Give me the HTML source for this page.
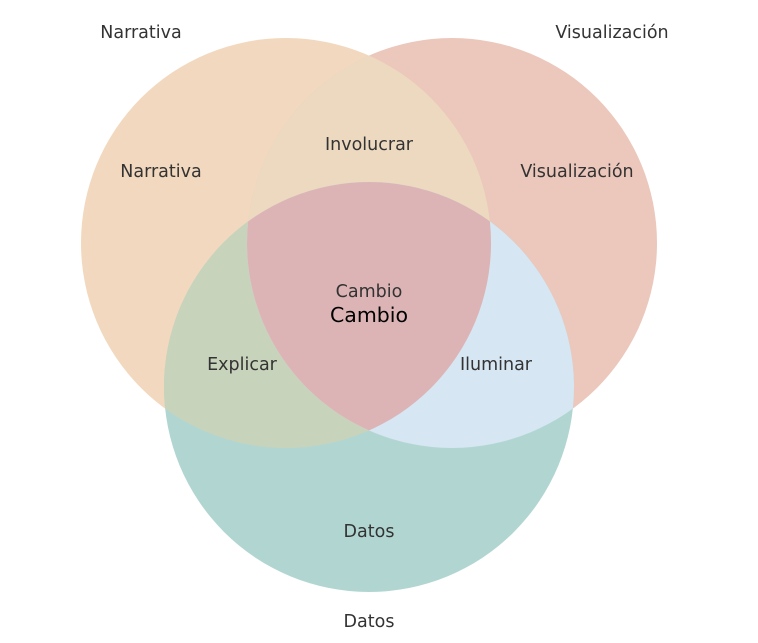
<!DOCTYPE html>
<html><head><meta charset="utf-8"><style>
html,body{margin:0;padding:0;background:#fff;}
svg{display:block;}
text{font-family:"DejaVu Sans","Liberation Sans",sans-serif;fill:#333;}
</style></head><body>
<svg width="758" height="643" viewBox="0 0 758 643" xmlns="http://www.w3.org/2000/svg">
<defs>
<clipPath id="cA"><circle cx="286" cy="243" r="205"/></clipPath>
<clipPath id="cB"><circle cx="452" cy="243" r="205"/></clipPath>
<clipPath id="cC"><circle cx="369" cy="387" r="205"/></clipPath>
</defs>
<circle cx="286" cy="243" r="205" fill="#f2d8be"/>
<circle cx="452" cy="243" r="205" fill="#ecc7bb"/>
<circle cx="369" cy="387" r="205" fill="#b1d6d2"/>
<g clip-path="url(#cA)"><circle cx="452" cy="243" r="205" fill="#ecd9c0"/></g>
<g clip-path="url(#cA)"><circle cx="369" cy="387" r="205" fill="#c8d3bb"/></g>
<g clip-path="url(#cB)"><circle cx="369" cy="387" r="205" fill="#d6e6f2"/></g>
<g clip-path="url(#cA)"><g clip-path="url(#cB)"><circle cx="369" cy="387" r="205" fill="#dcb4b5"/></g></g>
<text x="141" y="38" font-size="17.5" text-anchor="middle">Narrativa</text>
<text x="612" y="38" font-size="17.5" text-anchor="middle">Visualización</text>
<text x="369" y="627" font-size="17.5" text-anchor="middle">Datos</text>
<text x="161" y="177" font-size="17.5" text-anchor="middle">Narrativa</text>
<text x="577" y="177" font-size="17.5" text-anchor="middle">Visualización</text>
<text x="369" y="150" font-size="17.5" text-anchor="middle">Involucrar</text>
<text x="369" y="297" font-size="17.5" text-anchor="middle">Cambio</text>
<text x="369" y="322" font-size="20.5" text-anchor="middle" style="fill:#000">Cambio</text>
<text x="242" y="370" font-size="17.5" text-anchor="middle">Explicar</text>
<text x="496" y="370" font-size="17.5" text-anchor="middle">Iluminar</text>
<text x="369" y="537" font-size="17.5" text-anchor="middle">Datos</text>
</svg>
</body></html>
